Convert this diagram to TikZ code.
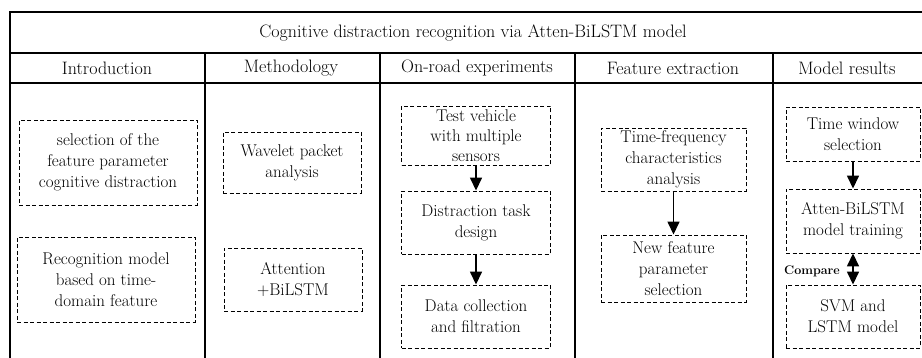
\documentclass[tikz,border=0pt]{standalone}
\usetikzlibrary{arrows.meta}

\tikzset{
  stagebox/.style={draw, line width=0.9pt, dash pattern=on 4pt off 2.5pt,
    align=center, inner sep=0pt, font=\fontsize{17}{21}\selectfont},
  headtext/.style={font=\fontsize{18}{20}\selectfont},
  flow/.style={-{Triangle[width=12pt,length=13pt]}, line width=1.5pt},
}

\begin{document}
\begin{tikzpicture}[x=1pt, y=-1pt]
  \useasboundingbox (0,0) rectangle (922,358);
  \clip (0,0) rectangle (922,358);

  % table frame
  \draw[line width=2.4pt] (10,365) -- (10,12) -- (935,12);
  \draw[line width=1.6pt] (10,53) -- (935,53);
  \draw[line width=1.6pt] (10,83) -- (935,83);
  \foreach \x in {205,380,575,773}
    \draw[line width=2pt] (\x,53) -- (\x,365);

  % headings
  \node[headtext] (title) at (473,33) {Cognitive distraction recognition via Atten-BiLSTM model};
  \node[headtext] (intro) at (107,68) {Introduction};
  \node[headtext] (method) at (291,68) {Methodology};
  \node[headtext] (road) at (477,68) {On-road experiments};
  \node[headtext] (feat) at (673,68) {Feature extraction};
  \node[headtext] (result) at (847,68) {Model results};

  % introduction
  \node[stagebox, minimum width=178pt, minimum height=85pt] (sel) at (108,162.5)
    {selection of the\\feature parameter\\cognitive distraction};
  \node[stagebox, minimum width=178pt, minimum height=85pt] (recog) at (106,279.5)
    {Recognition model\\based on time-\\domain feature};

  % methodology
  \node[stagebox, minimum width=138pt, minimum height=61pt] (wave) at (292,162.5)
    {Wavelet packet\\analysis};
  \node[stagebox, minimum width=138pt, minimum height=63pt] (atten) at (293,279.5)
    {Attention\\+BiLSTM};

  % on-road experiments
  \node[stagebox, minimum width=149pt, minimum height=59pt,
    font=\fontsize{17}{20}\selectfont] (veh) at (476,135.5)
    {Test vehicle\\with multiple\\sensors};
  \node[stagebox, minimum width=149pt, minimum height=63pt] (task) at (476,222.5)
    {Distraction task\\design};
  \node[stagebox, minimum width=149pt, minimum height=63pt] (data) at (476,316.5)
    {Data collection\\and filtration};
  \draw[flow] (veh) -- (task);
  \draw[flow] (task) -- (data);

  % feature extraction
  \node[stagebox, minimum width=145pt, minimum height=63pt] (tf) at (673.5,159.5)
    {Time-frequency\\characteristics\\analysis};
  \node[stagebox, minimum width=145pt, minimum height=67pt] (newf) at (673.5,268.5)
    {New feature\\parameter\\selection};
  \draw[flow] (tf) -- (newf);

  % model results
  \node[stagebox, minimum width=134pt, minimum height=54pt] (win) at (853,134)
    {Time window\\selection};
  \node[stagebox, minimum width=134pt, minimum height=64pt] (train) at (853,221)
    {Atten-BiLSTM\\model training};
  \node[stagebox, minimum width=134pt, minimum height=63pt] (svm) at (853,316.5)
    {SVM and\\LSTM model};
  \draw[flow] (win) -- (train);
  \draw[flow, {Triangle[width=12pt,length=13pt]}-{Triangle[width=12pt,length=13pt]}] (train) -- (svm);
  \node[font=\bfseries\fontsize{12.5}{14}\selectfont] (cmp) at (812,271) {Compare};
\end{tikzpicture}
\end{document}
